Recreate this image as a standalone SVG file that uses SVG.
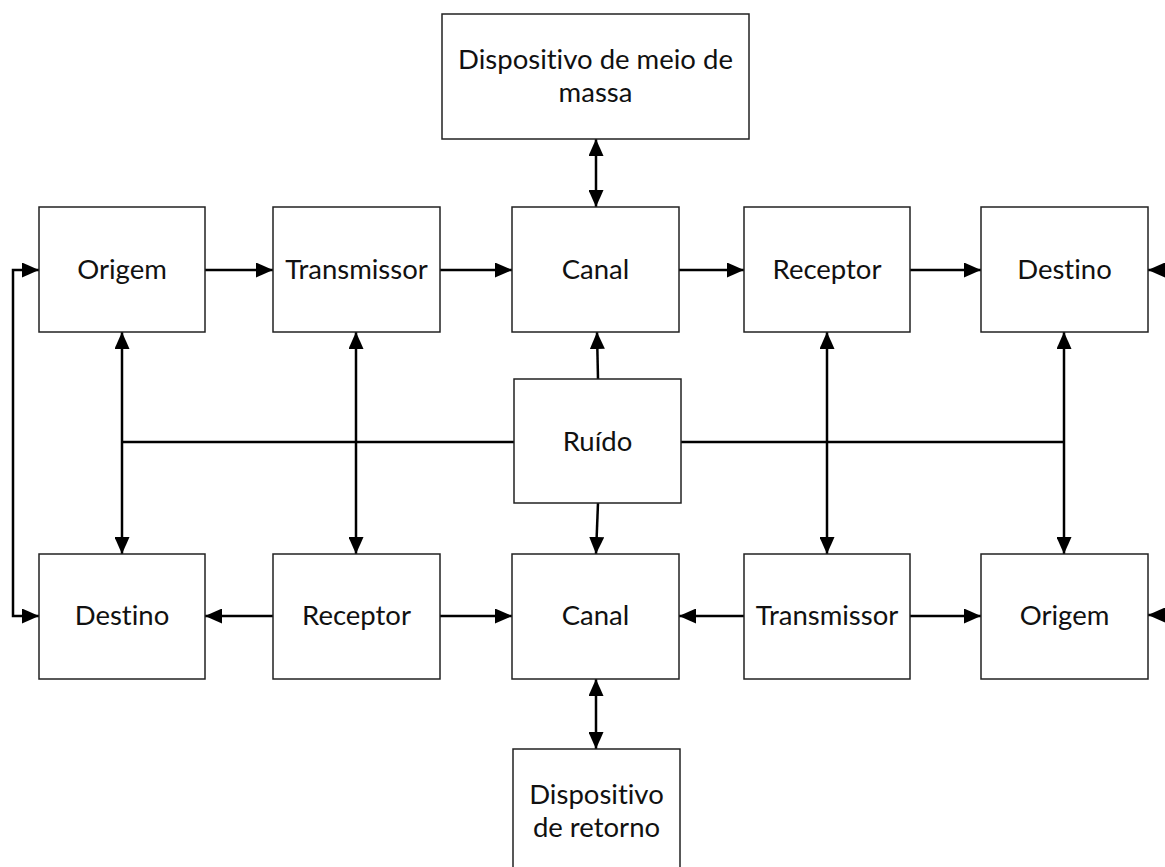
<svg xmlns="http://www.w3.org/2000/svg" width="1165" height="867" viewBox="0 0 1165 867">
<style>
.box{fill:#fff;stroke:#222;stroke-width:1.5}
.lbl{font-family:Lato,"Liberation Sans",sans-serif;font-size:27.5px;fill:#111;text-anchor:middle;font-variant-ligatures:none}
.c{stroke:#000;stroke-width:2.5;fill:none}
</style>
<defs>
<marker id="ah" markerUnits="userSpaceOnUse" markerWidth="17" markerHeight="15" refX="17" refY="7.5" orient="auto-start-reverse" viewBox="0 0 17 15">
<path d="M0,0 L17,7.5 L0,15 z" fill="#000"/>
</marker>
</defs>
<rect width="1165" height="867" fill="#fff"/>
<g id="connectors">
<line class="c" x1="205" y1="270" x2="273" y2="270" marker-end="url(#ah)"/>
<line class="c" x1="440" y1="270" x2="512" y2="270" marker-end="url(#ah)"/>
<line class="c" x1="679" y1="270" x2="744" y2="270" marker-end="url(#ah)"/>
<line class="c" x1="910" y1="270" x2="981" y2="270" marker-end="url(#ah)"/>
<line class="c" x1="273" y1="616" x2="205" y2="616" marker-end="url(#ah)"/>
<line class="c" x1="440" y1="616" x2="512" y2="616" marker-end="url(#ah)"/>
<line class="c" x1="744" y1="616" x2="679" y2="616" marker-end="url(#ah)"/>
<line class="c" x1="910" y1="616" x2="981" y2="616" marker-end="url(#ah)"/>
<line class="c" x1="596" y1="139" x2="596" y2="207" marker-start="url(#ah)" marker-end="url(#ah)"/>
<line class="c" x1="122" y1="332" x2="122" y2="554" marker-start="url(#ah)" marker-end="url(#ah)"/>
<line class="c" x1="356" y1="332" x2="356" y2="554" marker-start="url(#ah)" marker-end="url(#ah)"/>
<line class="c" x1="827" y1="332" x2="827" y2="554" marker-start="url(#ah)" marker-end="url(#ah)"/>
<line class="c" x1="1064" y1="332" x2="1064" y2="554" marker-start="url(#ah)" marker-end="url(#ah)"/>
<line class="c" x1="596" y1="679" x2="596" y2="749" marker-start="url(#ah)" marker-end="url(#ah)"/>
<line class="c" x1="598" y1="379" x2="597" y2="332" marker-end="url(#ah)"/>
<line class="c" x1="598" y1="503" x2="596" y2="554" marker-end="url(#ah)"/>
<line class="c" x1="122" y1="442" x2="514" y2="442"/>
<line class="c" x1="681" y1="442" x2="1064" y2="442"/>
<polyline class="c" points="39,270 13,270 13,616 39,616" marker-start="url(#ah)" marker-end="url(#ah)"/>
<line class="c" x1="1175" y1="270" x2="1148" y2="270" marker-end="url(#ah)"/>
<line class="c" x1="1175" y1="615" x2="1148" y2="615" marker-end="url(#ah)"/>
</g>
<g id="massa"><rect class="box" x="442" y="14" width="307" height="125"/><text class="lbl" x="595.5" y="69">Dispositivo de meio de</text><text class="lbl" x="595.5" y="102">massa</text></g>
<g id="origem1"><rect class="box" x="39" y="207" width="166" height="125"/><text class="lbl" x="122" y="279">Origem</text></g>
<g id="transmissor1"><rect class="box" x="273" y="207" width="167" height="125"/><text class="lbl" x="356.5" y="279">Transmissor</text></g>
<g id="canal1"><rect class="box" x="512" y="207" width="167" height="125"/><text class="lbl" x="595.5" y="279">Canal</text></g>
<g id="receptor1"><rect class="box" x="744" y="207" width="166" height="125"/><text class="lbl" x="827" y="279">Receptor</text></g>
<g id="destino1"><rect class="box" x="981" y="207" width="167" height="125"/><text class="lbl" x="1064.5" y="279">Destino</text></g>
<g id="ruido"><rect class="box" x="514" y="379" width="167" height="124"/><text class="lbl" x="597.5" y="451">Ruído</text></g>
<g id="destino2"><rect class="box" x="39" y="554" width="166" height="125"/><text class="lbl" x="122" y="625">Destino</text></g>
<g id="receptor2"><rect class="box" x="273" y="554" width="167" height="125"/><text class="lbl" x="356.5" y="625">Receptor</text></g>
<g id="canal2"><rect class="box" x="512" y="554" width="167" height="125"/><text class="lbl" x="595.5" y="625">Canal</text></g>
<g id="transmissor2"><rect class="box" x="744" y="554" width="166" height="125"/><text class="lbl" x="827" y="625">Transmissor</text></g>
<g id="origem2"><rect class="box" x="981" y="554" width="167" height="125"/><text class="lbl" x="1064.5" y="625">Origem</text></g>
<g id="retorno"><rect class="box" x="513" y="749" width="167" height="125"/><text class="lbl" x="596.5" y="804">Dispositivo</text><text class="lbl" x="596.5" y="837">de retorno</text></g>
</svg>
